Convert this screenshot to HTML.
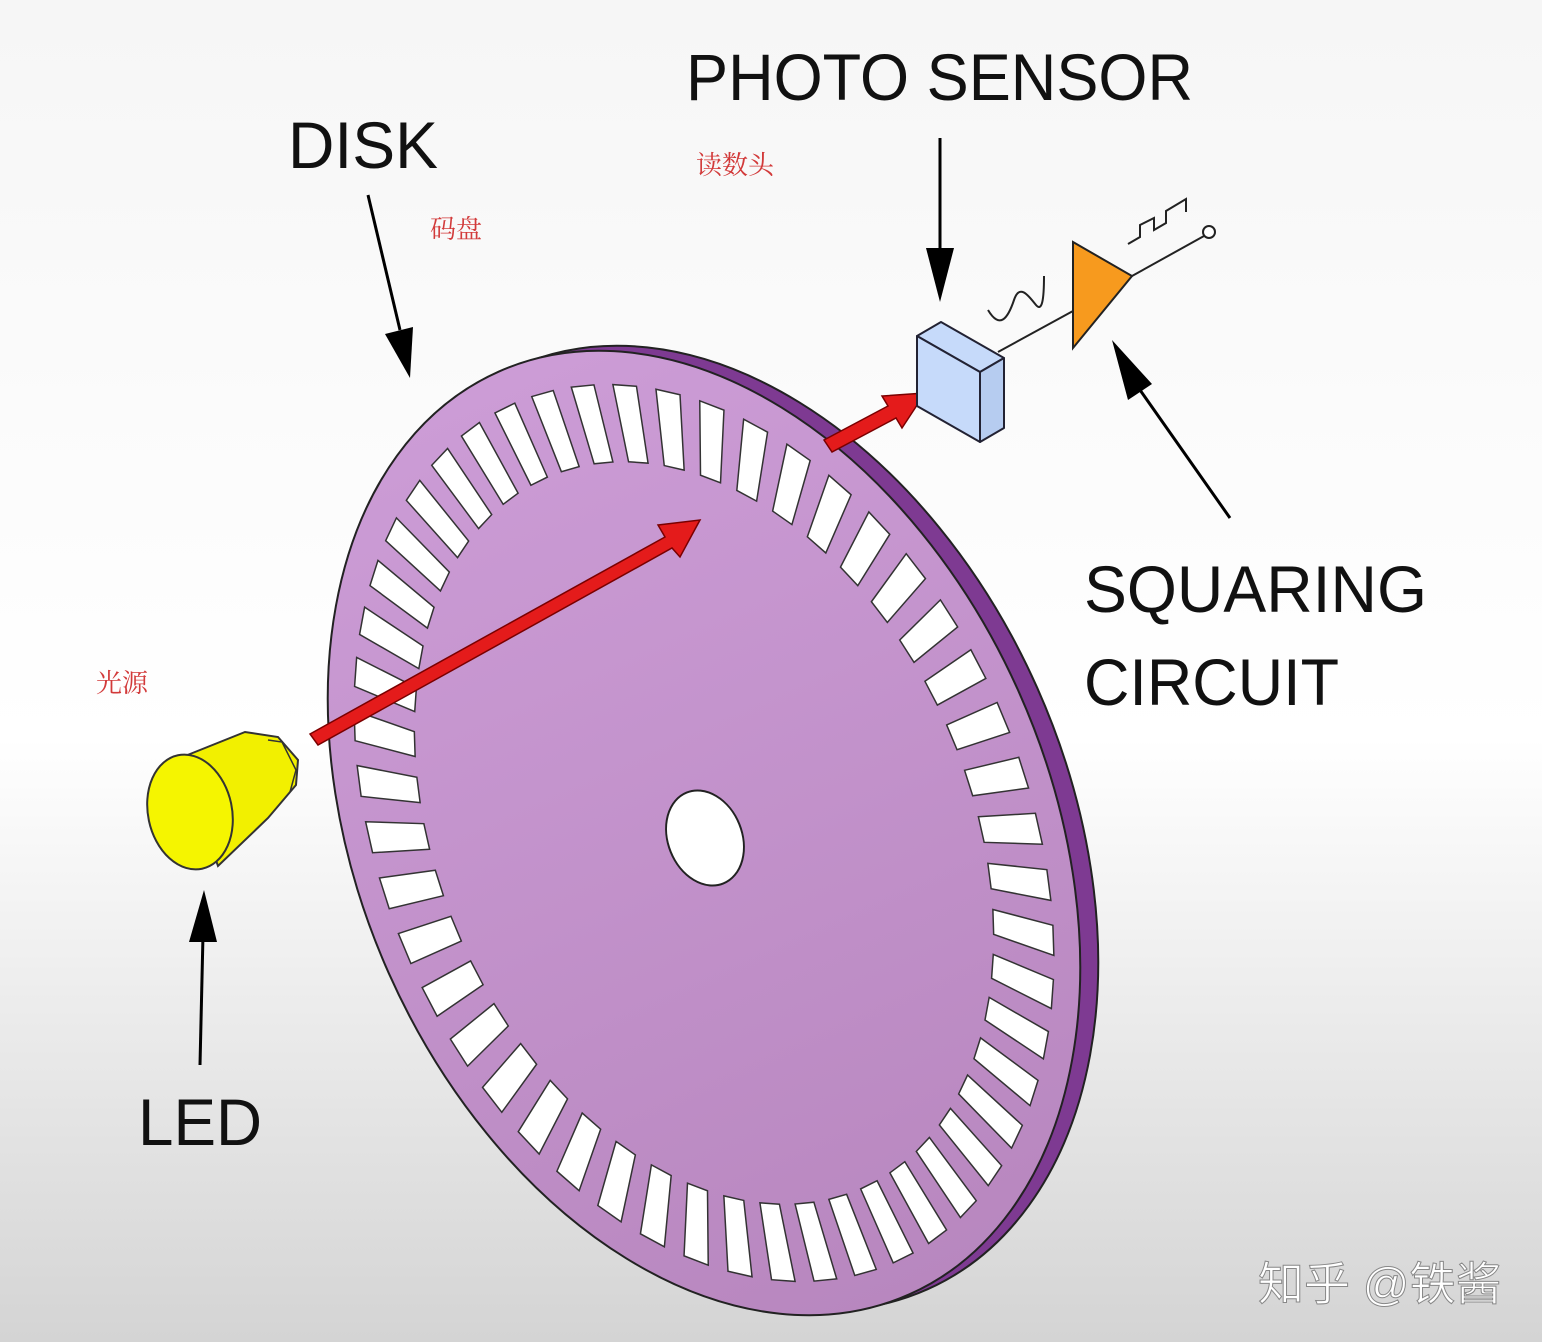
<!DOCTYPE html>
<html><head><meta charset="utf-8"><style>
html,body{margin:0;padding:0;width:1542px;height:1342px;overflow:hidden}
svg{display:block}
.lbl{font-family:"Liberation Sans",sans-serif;fill:#111}
.cn{font-family:"Liberation Serif","Noto Serif CJK SC",serif;fill:#d23a3a;font-size:26px}
</style></head><body>
<svg width="1542" height="1342" viewBox="0 0 1542 1342">
<defs>
<linearGradient id="bg" x1="0" y1="0" x2="0" y2="1"><stop offset="0" stop-color="#f6f6f6"/><stop offset="0.55" stop-color="#ffffff"/><stop offset="1" stop-color="#d4d4d4"/></linearGradient>
<linearGradient id="face" x1="0" y1="0" x2="0" y2="1"><stop offset="0" stop-color="#cc9cd6"/><stop offset="1" stop-color="#b887bf"/></linearGradient>
</defs>
<rect width="1542" height="1342" fill="url(#bg)"/>
<g>
<ellipse cx="722" cy="828" rx="345" ry="505" transform="rotate(-24 722 828)" fill="#7e3a92" stroke="#222" stroke-width="2"/>
<ellipse cx="704" cy="833" rx="345" ry="505" transform="rotate(-24 704 833)" fill="url(#face)" stroke="#222" stroke-width="2"/>
<g id="slots" transform="translate(704 833) rotate(-24) scale(345 505)"></g>
<ellipse cx="705" cy="838" rx="37" ry="49" transform="rotate(-22 705 838)" fill="#fff" stroke="#222" stroke-width="2"/>
</g>
<g>
<path d="M180,758 L245,732 L278,737 L298,760 L296,785 L268,818 L218,866 Z" fill="#f2f000" stroke="#333" stroke-width="2"/>
<path d="M268,740 L282,742 L296,770 L290,792" fill="none" stroke="#333" stroke-width="1.5"/>
<ellipse cx="190" cy="812" rx="42" ry="58" transform="rotate(-12 190 812)" fill="#f5f500" stroke="#333" stroke-width="2"/>
</g>
<polygon points="310,734 665,537 658,525 700,520 680,557 672,548 318,745" fill="#e41b1b" stroke="#7a0000" stroke-width="1.5"/>
<polygon points="824,440 888,406 882,396 925,393 902,428 896,418 832,452" fill="#e41b1b" stroke="#7a0000" stroke-width="1.5"/>
<g stroke="#223" stroke-width="2" stroke-linejoin="round">
<polygon points="917,336 941,322 1004,358 980,372" fill="#c6dafa"/>
<polygon points="980,372 1004,358 1004,428 980,442" fill="#b6ccf0"/>
<polygon points="917,336 980,372 980,442 917,406" fill="#c6dafa"/>
</g>
<polyline points="998,352 1073,311" fill="none" stroke="#222" stroke-width="2"/>
<path d="M988,310 C1000,330 1008,318 1014,300 C1020,282 1030,298 1036,305 C1042,312 1044,300 1044,276" fill="none" stroke="#222" stroke-width="2"/>
<polygon points="1073,242 1132,276 1073,348" fill="#f79a1e" stroke="#222" stroke-width="2"/>
<line x1="1132" y1="276" x2="1204" y2="236" stroke="#222" stroke-width="2"/>
<circle cx="1209" cy="232" r="6" fill="#fff" stroke="#222" stroke-width="2"/>
<polyline points="1128,244 1140,237 1140,225 1154,218 1154,230 1166,223 1166,211 1186,199 1186,212" fill="none" stroke="#222" stroke-width="2"/>
<g fill="#000" stroke="#000" stroke-width="3">
<line x1="368" y1="195" x2="400" y2="330"/><polygon points="385,334 413,327 410,378" stroke="none"/>
<line x1="940" y1="138" x2="940" y2="250"/><polygon points="926,248 954,248 940,302" stroke="none"/>
<line x1="1230" y1="518" x2="1140" y2="390"/><polygon points="1128,400 1152,384 1112,340" stroke="none"/>
<line x1="200" y1="1065" x2="203" y2="935"/><polygon points="189,942 217,942 204,890" stroke="none"/>
</g>
<text class="lbl" x="288" y="168" font-size="66" textLength="150" lengthAdjust="spacingAndGlyphs">DISK</text>
<text class="lbl" x="686" y="100" font-size="66" textLength="507" lengthAdjust="spacingAndGlyphs">PHOTO SENSOR</text>
<text class="lbl" x="1084" y="612" font-size="66" textLength="343" lengthAdjust="spacingAndGlyphs">SQUARING</text>
<text class="lbl" x="1084" y="705" font-size="66" textLength="255" lengthAdjust="spacingAndGlyphs">CIRCUIT</text>
<text class="lbl" x="138" y="1145" font-size="66" textLength="124" lengthAdjust="spacingAndGlyphs">LED</text>
<text class="cn" x="430" y="238">码盘</text>
<text class="cn" x="696" y="174">读数头</text>
<text class="cn" x="96" y="692">光源</text>
<text x="1258" y="1300" font-size="46" font-family="'Liberation Sans','Noto Sans CJK SC',sans-serif" fill="#fff" stroke="#888" stroke-width="1">知乎 @铁酱</text>
</svg>
<script>
const slotCount = 50;
const g = document.getElementById('slots');
for (let i = 0; i < slotCount; i++) {
  const a0 = (i / slotCount) * Math.PI * 2, a1 = a0 + (Math.PI * 2 / slotCount) * 0.55;
  const r0 = 0.77, r1 = 0.93;
  const pts = [[r0,a0],[r1,a0],[r1,a1],[r0,a1]].map(p => (p[0]*Math.cos(p[1])).toFixed(4)+','+(p[0]*Math.sin(p[1])).toFixed(4)).join(' ');
  const p = document.createElementNS('http://www.w3.org/2000/svg','polygon');
  p.setAttribute('points', pts);
  p.setAttribute('fill', '#fff');
  p.setAttribute('stroke', '#333');
  p.setAttribute('stroke-width', '1.5');
  p.setAttribute('vector-effect', 'non-scaling-stroke');
  
  
  g.appendChild(p);
}
</script>
</body></html>
